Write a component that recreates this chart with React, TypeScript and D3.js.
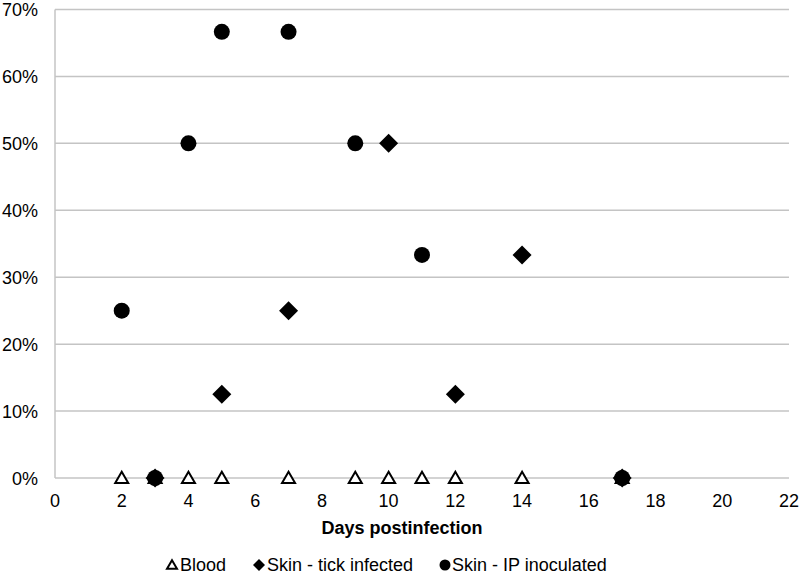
import React from "react";
import * as d3 from "d3";

const xTicks = [0, 2, 4, 6, 8, 10, 12, 14, 16, 18, 20, 22];
const yTicks = [0, 0.1, 0.2, 0.3, 0.4, 0.5, 0.6, 0.7];

const bloodDays = [2, 3, 4, 5, 7, 9, 10, 11, 12, 14, 17];
const bloodValues = [0, 0, 0, 0, 0, 0, 0, 0, 0, 0, 0];

const tickDays = [3, 5, 7, 10, 12, 14, 17];
const tickValues = [0, 0.125, 0.25, 0.5, 0.125, 0.3333, 0];

const ipDays = [2, 3, 4, 5, 7, 9, 11, 17];
const ipValues = [0.25, 0, 0.5, 0.6667, 0.6667, 0.5, 0.3333, 0];

const seriesNames = ["Blood", "Skin - tick infected", "Skin - IP inoculated"];

const W = 800;
const H = 574;
const font = "'Liberation Sans', Arial, sans-serif";

export default function App() {
  const x = d3.scaleLinear().domain([0, 22]).range([55, 789]);
  const y = d3.scaleLinear().domain([0, 0.7]).range([478, 9.5]);
  const fmt = d3.format(".0%");

  const tri = (cx: number, cy: number, s: number) =>
    `M${cx},${cy - s * 0.95} L${cx + s},${cy + s * 0.75} L${cx - s},${cy + s * 0.75} Z`;
  const dia = (cx: number, cy: number, s: number) =>
    `M${cx},${cy - s} L${cx + s},${cy} L${cx},${cy + s} L${cx - s},${cy} Z`;

  return (
    <svg
      width={W}
      height={H}
      style={{ position: "absolute", left: 0, top: 0, background: "#fff" }}
      fontFamily={font}
    >
      {yTicks.map((t) => (
        <g key={t}>
          <line x1={55} x2={789} y1={y(t)} y2={y(t)} stroke="#c4c4c4" strokeWidth={1.5} />
          <text x={38} y={y(t) + 6.5} textAnchor="end" fontSize={18} fill="#000">
            {fmt(t)}
          </text>
        </g>
      ))}
      <line x1={55} x2={55} y1={y(0.7)} y2={y(0)} stroke="#c4c4c4" strokeWidth={1.5} />
      {xTicks.map((t) => (
        <text key={t} x={x(t)} y={507} textAnchor="middle" fontSize={18} fill="#000">
          {t}
        </text>
      ))}
      <text x={402} y={534} textAnchor="middle" fontSize={18} fontWeight="bold">
        Days postinfection
      </text>

      {bloodDays.map((d, i) => (
        <path
          key={"b" + i}
          d={tri(x(d), y(bloodValues[i]), 6.5)}
          fill="#fff"
          stroke="#000"
          strokeWidth={2}
        />
      ))}
      {ipDays.map((d, i) => (
        <circle key={"c" + i} cx={x(d)} cy={y(ipValues[i])} r={8} fill="#000" />
      ))}
      {tickDays.map((d, i) => (
        <path key={"t" + i} d={dia(x(d), y(tickValues[i]), 9.5)} fill="#000" />
      ))}

      <g>
        <path d={tri(172, 565, 5)} fill="#fff" stroke="#000" strokeWidth={2} />
        <text x={180} y={571} fontSize={18}>{seriesNames[0]}</text>
        <path d={dia(259, 565, 6)} fill="#000" />
        <text x={267} y={571} fontSize={18}>{seriesNames[1]}</text>
        <circle cx={445} cy={565} r={5.5} fill="#000" />
        <text x={452} y={571} fontSize={18}>{seriesNames[2]}</text>
      </g>
    </svg>
  );
}
